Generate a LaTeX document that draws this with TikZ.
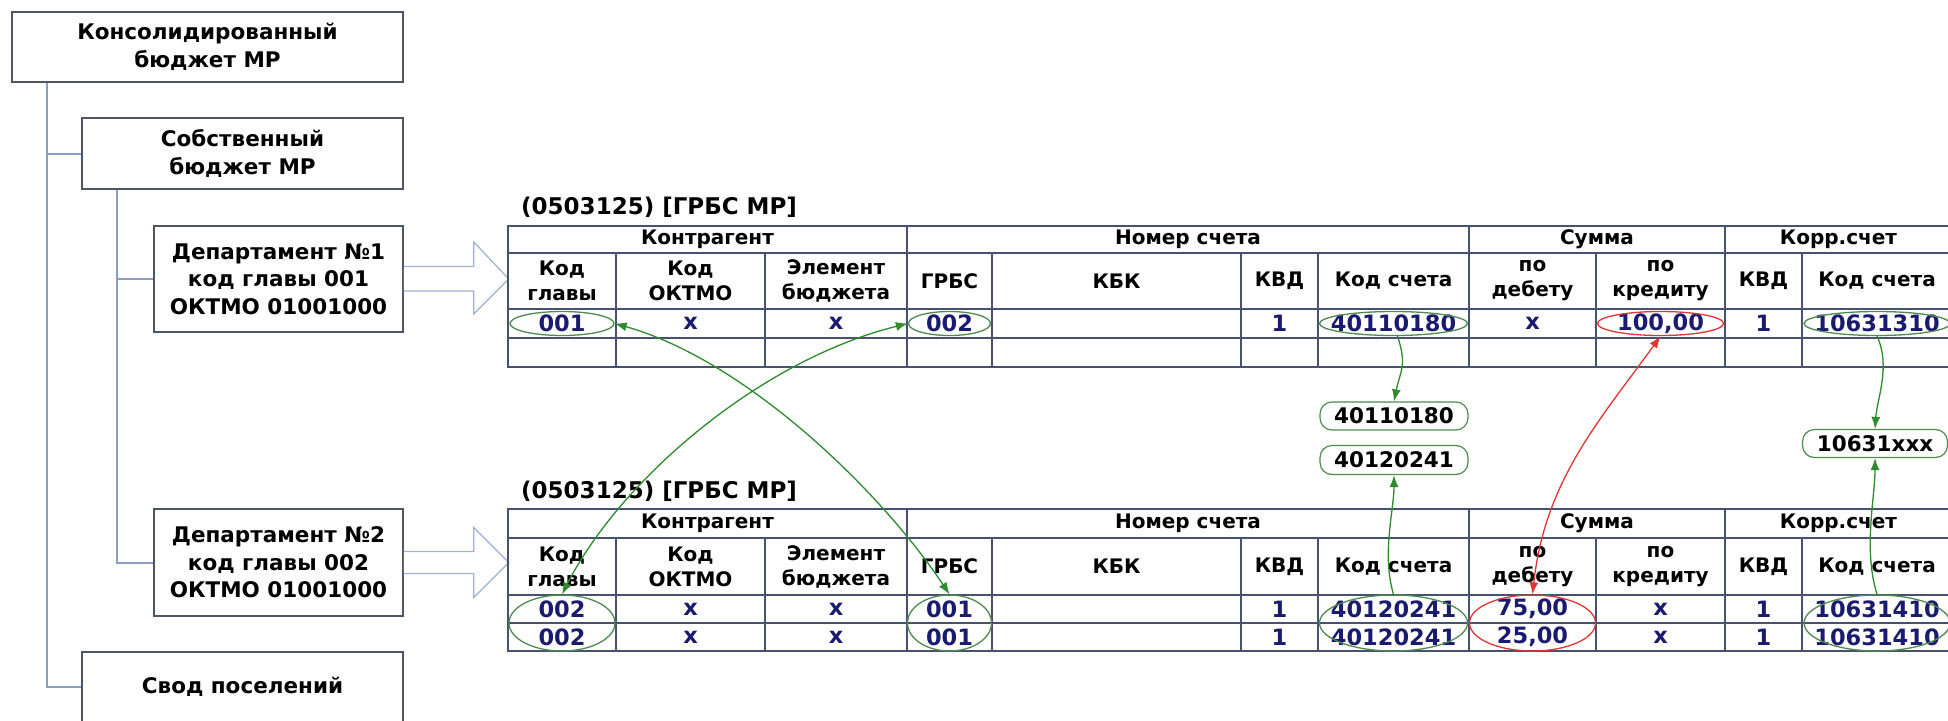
\documentclass[tikz,border=0pt]{standalone}
\usepackage{fontspec}
\setmainfont{DejaVu Sans}
\usetikzlibrary{arrows.meta,shapes.geometric}
\definecolor{boxline}{HTML}{4E5566}
\definecolor{conn}{HTML}{8C9DC2}
\definecolor{tabline}{HTML}{465270}
\definecolor{navy}{HTML}{1A1A6E}
\definecolor{grn}{HTML}{2E8B2E}
\definecolor{ovalgrn}{HTML}{4F8A4F}
\definecolor{redc}{HTML}{E03535}
\definecolor{barrow}{HTML}{9FB2D2}
\newcommand\mytbl[6]{%
  \draw[tabst] (508,#2) rectangle (1952,#6);
  \foreach \yy in {#3,#4,#5} \draw[tabst] (508,\yy) -- (1952,\yy);
  \foreach \xx in {907,1469,1725} \draw[tabst] (\xx,#2) -- (\xx,#6);
  \foreach \xx in {616,765,992,1241,1318,1596,1802} \draw[tabst] (\xx,#3) -- (\xx,#6);
  \foreach \cx/\tx [count=\i] in {707.5/Контрагент, 1188/Номер счета, 1597/Сумма, 1838.5/Корр.счет}
    \node[hdr] (#1g\i) at (\cx,{(#2+#3)/2}) {\tx};
  \foreach \cx/\tx [count=\i] in {562/{Код\\главы}, 690.5/{Код\\ОКТМО}, 836/{Элемент\\бюджета}, 949.5/ГРБС, 1116.5/КБК, 1279.5/КВД, 1393.5/Код счета, 1532.5/{по\\дебету}, 1660.5/{по\\кредиту}, 1763.5/КВД, 1877/Код счета}
    \node[hdr] (#1h\i) at (\cx,{(#3+#4)/2}) {\tx};
}
\begin{document}
\begin{tikzpicture}[x=1pt,y=-1pt,
  every node/.style={font=\fontsize{21.5}{27.5}\selectfont\bfseries, inner sep=0pt},
  orgbox/.style={draw=boxline, line width=1.5pt, fill=white, align=center},
  connline/.style={draw=conn, line width=2pt},
  blockarr/.style={draw=barrow, line width=1.2pt, fill=white, line join=miter},
  tabst/.style={draw=tabline, line width=1.7pt},
  hdr/.style={align=center, font=\fontsize{20}{25}\selectfont\bfseries},
  dat/.style={text=navy, font=\fontsize{22.5}{24}\selectfont\bfseries},
  ov/.style={ellipse, draw=ovalgrn, line width=1.3pt, inner sep=0pt},
  ovred/.style={ellipse, draw=redc, line width=1.3pt, inner sep=0pt},
  rbox/.style={draw=ovalgrn, line width=1.2pt, rounded corners=12pt, fill=white},
  gboth/.style={draw=grn, line width=1.3pt, {Latex[length=12pt,width=9pt]}-{Latex[length=12pt,width=9pt]}},
  gone/.style={draw=grn, line width=1.3pt, -{Latex[length=12pt,width=9pt]}},
  rboth/.style={draw=redc, line width=1.3pt, {Latex[length=12pt,width=9pt]}-{Latex[length=12pt,width=9pt]}}
]
\useasboundingbox (0,0) rectangle (1948,720);
\clip (0,0) rectangle (1948,720);
\fill[white] (0,0) rectangle (1948,720);

% org boxes
\node[orgbox, minimum width=391pt, minimum height=70pt] (K) at (207.5,47) {Консолидированный\\бюджет МР};
\node[orgbox, minimum width=321pt, minimum height=71pt] (S) at (242.5,153.5) {Собственный\\бюджет МР};
\node[orgbox, minimum width=249pt, minimum height=106pt] (D1) at (278.5,279) {Департамент №1\\код главы 001\\ОКТМО 01001000};
\node[orgbox, minimum width=249pt, minimum height=107pt] (D2) at (278.5,562.5) {Департамент №2\\код главы 002\\ОКТМО 01001000};
\node[orgbox, minimum width=321pt, minimum height=70pt] (Svod) at (242.5,687) {Свод поселений};

% connectors
\draw[connline] (K.south west) ++(36,0) |- (Svod.west);
\draw[connline] (S.west) -- ++(-34,0);
\draw[connline] (S.south west) ++(36,0) |- (D2.west);
\draw[connline] (D1.west) -- ++(-36,0);

% block arrows
\draw[blockarr] ([yshift=12.5pt]D1.east) -- ++(70,0) -- ++(0,-24.5) -- ++(35,37) -- ++(-35,35) -- ++(0,-23) -- ++(-70,0);
\draw[blockarr] ([yshift=11pt]D2.east) -- ++(70,0) -- ++(0,-24) -- ++(35,35) -- ++(-35,35) -- ++(0,-24) -- ++(-70,0);

% titles
\node[anchor=west, font=\fontsize{23}{27}\selectfont\bfseries] (title1) at (521,207) {(0503125) [ГРБС МР]};
\node[anchor=west, font=\fontsize{23}{27}\selectfont\bfseries] (title2) at (521,491) {(0503125) [ГРБС МР]};

% tables
\mytbl{A}{226}{253}{309}{338}{367}
\mytbl{B}{509}{538}{595}{623}{651}

% data table 1
\foreach \cx/\tx [count=\i] in {562/001, 690.5/x, 836/x, 949.5/002, 1279.5/1, 1393.5/40110180, 1532.5/x, 1660.5/{100,00}, 1763.5/1, 1877/10631310}
  \node[dat] (Ad\i) at (\cx,323.5) {\tx};
% data table 2
\foreach \cx/\tx [count=\i] in {562/002, 690.5/x, 836/x, 949.5/001, 1279.5/1, 1393.5/40120241, 1532.5/{75,00}, 1660.5/x, 1763.5/1, 1877/10631410}
  \node[dat] (Be\i) at (\cx,609) {\tx};
\foreach \cx/\tx [count=\i] in {562/002, 690.5/x, 836/x, 949.5/001, 1279.5/1, 1393.5/40120241, 1532.5/{25,00}, 1660.5/x, 1763.5/1, 1877/10631410}
  \node[dat] (Bf\i) at (\cx,637) {\tx};

% ovals table 1
\node[ov, minimum width=104pt, minimum height=24pt] (o1a) at (562,323.5) {};
\node[ov, minimum width=82pt, minimum height=24pt] (o1b) at (949.5,323.5) {};
\node[ov, minimum width=148pt, minimum height=24pt] (o1k) at (1393.5,323.5) {};
\node[ovred, minimum width=126pt, minimum height=24pt] (o1s) at (1660.5,323.5) {};
\node[ov, minimum width=146pt, minimum height=24pt] (o1c) at (1877,323.5) {};
% ovals table 2
\node[ov, minimum width=106pt, minimum height=56pt] (o2a) at (562,623) {};
\node[ov, minimum width=84pt, minimum height=56pt] (o2b) at (949.5,623) {};
\node[ov, minimum width=148pt, minimum height=56pt] (o2k) at (1393.5,623) {};
\node[ovred, minimum width=126pt, minimum height=56pt] (o2s) at (1532.5,623) {};
\node[ov, minimum width=146pt, minimum height=56pt] (o2c) at (1877,623) {};

% account boxes
\node[rbox, minimum width=148pt, minimum height=28pt] (k1) at (1394,416) {40110180};
\node[rbox, minimum width=148pt, minimum height=29pt] (k2) at (1394,460) {40120241};
\node[rbox, minimum width=145pt, minimum height=28pt] (k3) at (1875,443.5) {10631xxx};

% arrows
\draw[gboth] (o1a.east) .. controls (745,360) and (880,490) .. (o2b.north);
\draw[gboth] (o1b.west) .. controls (760,360) and (620,480) .. (o2a.north);
\draw[gone] ([xshift=4pt]o1k.south) .. controls +(10,30) and +(6,-30) .. (k1.north);
\draw[gone] (o2k.north) .. controls +(-12,-40) and +(0,35) .. (k2.south);
\draw[gone] (o1c.south) .. controls +(14,30) and +(2,-30) .. (k3.north);
\draw[gone] (o2c.north) .. controls +(-14,-45) and +(0,40) .. (k3.south);
\draw[rboth] (o1s.south) .. controls (1600,420) and (1545,480) .. (o2s.north);
\end{tikzpicture}
\end{document}
